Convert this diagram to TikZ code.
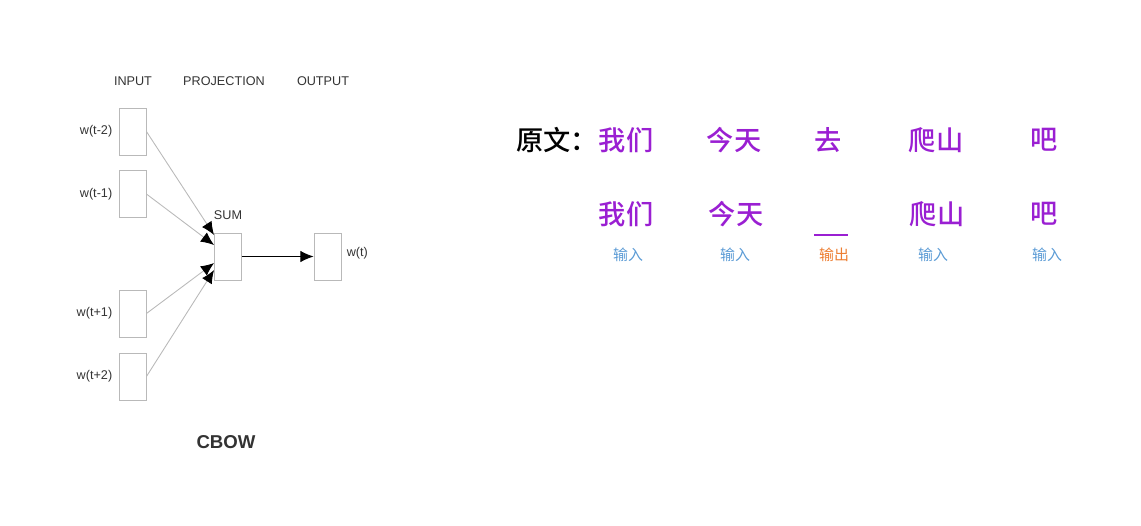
\documentclass[tikz,border=0pt]{standalone}
\usepackage{fontspec}
\setmainfont{Liberation Sans}
\newfontfamily\cjk{Noto Sans CJK SC}
\newfontfamily\cjkmid{Noto Sans CJK SC Medium}
\usetikzlibrary{positioning, arrows.meta}
\definecolor{wordpurple}{HTML}{9A1FD2}
\definecolor{inblue}{HTML}{5B9BD5}
\definecolor{outorange}{HTML}{ED7D31}
\definecolor{labgray}{HTML}{333333}

\begin{document}
\begin{tikzpicture}[
    x=0.02cm, y=-0.02cm,
    vec/.style={draw=gray!55, line width=0.5pt, minimum width=0.54cm, minimum height=0.94cm, inner sep=0pt},
    head_label/.style={font=\fontsize{7.2}{8}\selectfont, text=labgray, inner sep=0pt},
    word_label/.style={font=\fontsize{7.2}{8}\selectfont, text=labgray, inner sep=0pt},
    in_arrow/.style={draw=gray!55, line width=0.5pt, -{Latex[black, length=7.5pt, width=6.5pt]}},
    word/.style={font=\cjkmid\fontsize{15.5}{17}\selectfont, text=wordpurple, inner sep=0pt},
    role/.style={font=\cjk\fontsize{8.5}{10}\selectfont, inner sep=0pt}
]
    \useasboundingbox (0,0) rectangle (1141,525);

    % Column headings
    \node[head_label] (h_in) at (133,81) {INPUT};
    \node[head_label] (h_proj) at (224,81) {PROJECTION};
    \node[head_label] (h_out) at (323,81) {OUTPUT};

    % Projection and output layers
    \node[vec] (sum) at (228,256.5) {};
    \node[head_label, above=0.25cm of sum] (sum_lab) {SUM};
    \node[vec] (out) at (327.5,256.5) {};
    \node[word_label, right=0.1cm of out, yshift=0.06cm] (out_lab) {w(t)};
    \draw[line width=0.5pt, -{Latex[length=7.5pt, width=6.5pt]}] (sum) -- (out);

    % Context words
    \foreach \n/\lab/\yy/\ys in {1/{w(t-2)}/131.5/0.43cm, 2/{w(t-1)}/194/0.23cm, 3/{w(t+1)}/313.5/-0.13cm, 4/{w(t+2)}/376.5/-0.27cm} {
        \node[vec] (in\n) at (132.5,\yy) {};
        \node[word_label, left=0.12cm of in\n] (in\n_lab) {\lab};
        \draw[in_arrow] (in\n.east) -- ([yshift=\ys]sum.west);
    }

    \node[font=\bfseries\fontsize{10.6}{12}\selectfont, text=labgray] (cbow) at (226,442) {CBOW};

    % Original sentence
    \node[word, text=black, anchor=west] (orig) at (516,140) {原文：};
    \foreach \w/\xx in {w1/626, w2/734, w3/828, w4/936, w5/1044} {
        \node[word] (top_\w) at (\xx,140) {};
    }
    \node[word] at (top_w1) {我们};
    \node[word] at (top_w2) {今天};
    \node[word] at (top_w3) {去};
    \node[word] at (top_w4) {爬山};
    \node[word] at (top_w5) {吧};

    % Masked sentence
    \node[word] (ctx1) at (626,214) {我们};
    \node[word] (ctx2) at (736,214) {今天};
    \coordinate (gap_l) at (814,235);
    \coordinate (gap_r) at (848,235);
    \draw[wordpurple, line width=0.6pt] (gap_l) -- (gap_r);
    \node[word] (ctx4) at (937,214) {爬山};
    \node[word] (ctx5) at (1044,214) {吧};

    % Roles
    \foreach \r/\xx in {r1/628, r2/735, r4/933, r5/1047} {
        \node[role, text=inblue] (\r) at (\xx,255) {输入};
    }
    \node[role, text=outorange] (r3) at (834,255) {输出};

\end{tikzpicture}
\end{document}
